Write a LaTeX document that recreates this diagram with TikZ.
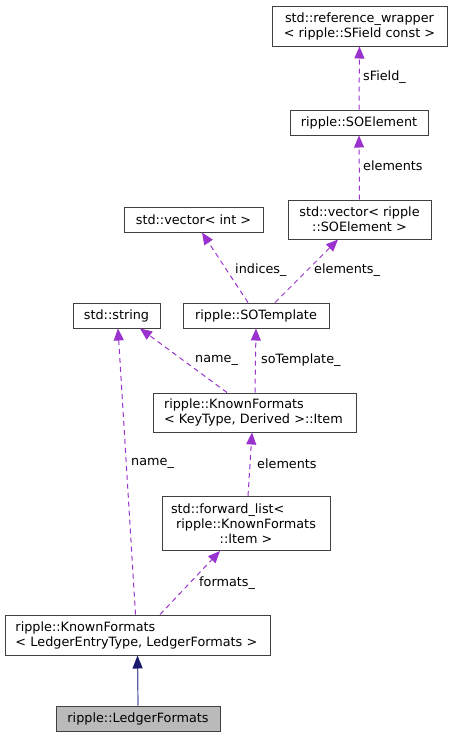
\documentclass[tikz,border=0pt]{standalone}
\usepackage{fontspec}
\setmainfont{DejaVu Sans}
\usetikzlibrary{arrows.meta}
\definecolor{usecolor}{HTML}{9A32CD}
\definecolor{basecolor}{HTML}{191970}
\definecolor{baseline}{HTML}{5C5CA0}
\tikzset{
  cls/.style={draw=black!75, line width=1pt, fill=white, inner sep=0pt,
    font=\fontsize{12.8}{15}\selectfont, align=center},
  usage/.style={draw=usecolor, line width=1pt, dash pattern=on 5pt off 4pt,
    -{Triangle[length=12pt,width=10pt,fill=usecolor,color=usecolor]}},
  inherit/.style={draw=baseline, line width=1.2pt,
    -{Triangle[length=13pt,width=10pt,fill=basecolor,color=basecolor]}},
  lbl/.style={font=\fontsize{12.8}{15}\selectfont, anchor=west, inner sep=0pt}
}
\begin{document}
\begin{tikzpicture}[x=1pt,y=-1pt] % collaboration graph
	\useasboundingbox (0,0) rectangle (452,737);

	% classes
	\node[cls, minimum width=175, minimum height=40] (refwrap) at (359.5,26) {std::reference\_wrapper\\< ripple::SField const >};
	\node[cls, minimum width=138, minimum height=25] (soelem) at (359,122.5) {ripple::SOElement};
	\node[cls, minimum width=143, minimum height=39] (vecso) at (359.5,219.5) {std::vector< ripple\\::SOElement >};
	\node[cls, minimum width=139, minimum height=25] (vecint) at (193.5,219.5) {std::vector< int >};
	\node[cls, minimum width=87, minimum height=25] (string) at (116.5,315.5) {std::string};
	\node[cls, minimum width=146, minimum height=25] (sotempl) at (256,315.5) {ripple::SOTemplate};
	\node[cls, minimum width=203, minimum height=39, text width=181, align=left] (kfitem) at (254.5,412.5) {ripple::KnownFormats\\< KeyType, Derived >::Item};
	\node[cls, minimum width=168, minimum height=54] (fwdlist) at (246,523.5) {\makebox[150pt][l]{std::forward\_list<}\\ripple::KnownFormats\\::Item >};
	\node[cls, minimum width=265, minimum height=40, text width=244, align=left] (kfledger) at (137.5,635) {ripple::KnownFormats\\< LedgerEntryType, LedgerFormats >};
	\node[cls, fill=black!27, minimum width=164, minimum height=25] (ledger) at (138,718.5) {ripple::LedgerFormats};

	% members
	\draw[usage] (soelem.north) -- (refwrap.south);
	\node[lbl] at (363,77) {sField\_};
	\draw[usage] (vecso.north) -- (soelem.south);
	\node[lbl] at (363,166) {elements};
	\draw[usage] ([xshift=-8]sotempl.north) -- ([xshift=8.5]vecint.south);
	\node[lbl] at (235,270) {indices\_};
	\draw[usage] ([xshift=19]sotempl.north) -- ([xshift=-21.5]vecso.south);
	\node[lbl] at (314,270) {elements\_};
	\draw[usage] ([xshift=-27.5]kfitem.north) -- ([xshift=23.5]string.south);
	\node[lbl] at (195,360) {name\_};
	\draw[usage] ([xshift=0.5]kfitem.north) -- (sotempl.south);
	\node[lbl] at (261,360) {soTemplate\_};
	\draw[usage] ([xshift=2]fwdlist.north) -- ([xshift=-2.5]kfitem.south);
	\node[lbl] at (257,464) {elements};
	\draw[usage] ([xshift=-2]kfledger.north) -- ([xshift=1.5]string.south);
	\node[lbl] at (131,463) {name\_};
	\draw[usage] ([xshift=22.5]kfledger.north) -- ([xshift=-26]fwdlist.south);
	\node[lbl] at (199,583) {formats\_};

	% base class
	\draw[inherit] (ledger.north) -- (kfledger.south);
\end{tikzpicture}
\end{document}
